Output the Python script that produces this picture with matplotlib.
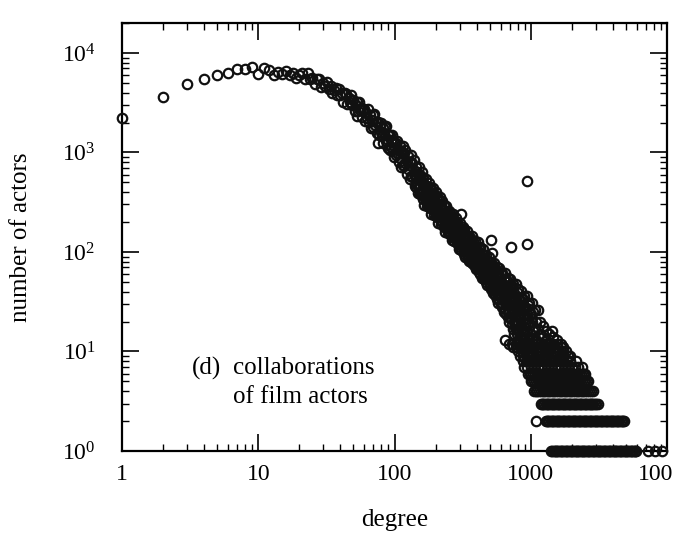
import numpy as np
import matplotlib
matplotlib.use('Agg')
from matplotlib import pyplot as plt
from matplotlib.ticker import LogLocator, FuncFormatter, NullFormatter

plt.rcParams['font.family'] = ['Liberation Serif', 'DejaVu Serif']
plt.rcParams['mathtext.fontset'] = 'custom'
plt.rcParams['mathtext.rm'] = 'Liberation Serif'

# degree distribution of the actor network
# head: k = 1..11
head_k = [1, 2, 3, 4, 5, 6, 7, 8, 9, 10, 11]
head_n = [2240, 3570, 4920, 5450, 6020, 6270, 6960, 6860, 7240, 6110, 7030]

# every degree from 12 to 100
low_k = list(range(12, 101))
low_n = [6720, 6050, 6440, 6180, 6640, 5960, 6290, 5650, 6030,
         6300, 5420, 6220, 5430, 5590, 4850, 5510, 5430, 4600, 4990,
         4640, 5100, 4340, 4650, 3920, 4260, 4450, 3820, 4370, 3810,
         3970, 3230, 3930, 3910, 3100, 3550, 3240, 3750, 2990, 3340,
         2610, 3000, 3250, 2620, 3230, 2670, 2810, 2270, 2750, 2740,
         2090, 2500, 2210, 2730, 2030, 2370, 1770, 2100, 2360, 1800,
         2410, 1880, 2020, 1570, 2030, 2030, 1510, 1810, 1610, 2000,
         1460, 1780, 1250, 1560, 1800, 1290, 1850, 1360, 1500, 1100,
         1510, 1510, 1060, 1320, 1140, 1500, 1050, 1290, 895, 1120]

# sampled degrees above 100 with the counts seen in that column
mid_k = [102, 105, 107, 110, 112, 115, 117, 120, 123, 126, 129, 132, 135, 138, 141,
         145, 148, 151, 155, 158, 162, 166, 170, 174, 178, 182, 186, 191, 195, 200,
         204, 209, 214, 219, 224, 229, 234, 240, 245, 251, 257, 263, 269, 275, 282,
         288, 295, 302, 309, 316,
         324, 331, 339, 347, 355, 363, 372, 380, 389, 398, 407, 417, 427, 437, 447,
         457, 468, 479, 490, 501, 513, 525, 537, 550, 562, 575, 589, 603, 617, 631,
         646, 661, 676, 692, 708, 724, 741, 759, 776, 794, 813, 832, 851, 871, 891,
         912, 933, 955, 977, 1000, 1023, 1047, 1072, 1096, 1122, 1175, 1230, 1290,
         1350, 1445, 1550]
mid_n = [[1245, 948], [1315, 998], [1052, 794], [1159, 871], [1014, 708],
         [1170, 746], [993, 736], [1059, 782], [830, 608], [925, 675],
         [800, 540], [940, 574], [787, 566], [843, 604], [649, 462],
         [721, 557, 445], [608, 478, 387], [708, 565, 444], [596, 475, 379],
         [494, 394, 640], [552, 427, 340], [466, 366, 296], [542, 433, 340],
         [456, 364, 290], [378, 302, 490], [448, 346, 276], [378, 296, 240],
         [440, 351, 275], [370, 295, 235], [307, 245, 397], [363, 281, 224],
         [306, 240, 195], [356, 284, 223], [300, 239, 191], [249, 199, 322],
         [294, 228, 182], [248, 195, 158], [289, 231, 181], [243, 194, 155],
         [202, 161, 261], [247, 191, 152], [208, 164, 133], [243, 194, 152],
         [204, 163, 130], [169, 135, 219], [200, 155, 124], [169, 133, 108],
         [197, 157, 123], [166, 132, 105], [137, 110, 178],
         [172, 142, 117, 96], [150, 123, 105, 89], [163, 137, 113, 94],
         [144, 119, 100, 86], [145, 120, 99, 81], [132, 109, 93, 79],
         [145, 121, 100, 84], [128, 105, 88, 76], [129, 106, 87, 72],
         [112, 92, 79, 67], [125, 103, 84, 70], [110, 89, 74, 63],
         [111, 90, 73, 60], [96, 78, 66, 55], [106, 87, 71, 59],
         [93, 76, 63, 53], [94, 76, 62, 50], [81, 66, 55, 47],
         [89, 74, 60, 50], [79, 64, 53, 45], [80, 65, 52, 42],
         [70, 56, 46, 39], [78, 63, 50, 41], [69, 54, 44, 37],
         [71, 56, 44, 34], [61, 47, 38, 31], [69, 55, 42, 34],
         [60, 46, 36, 30], [62, 48, 36, 28], [53, 40, 32, 25],
         [62, 47, 36, 27], [53, 39, 30, 24], [55, 40, 30, 22],
         [45, 33, 25, 20], [54, 40, 29, 22], [45, 33, 24, 19],
         [48, 34, 24, 17], [39, 27, 20, 15], [48, 34, 24, 17],
         [40, 27, 19, 15], [42, 29, 19, 13], [33, 22, 16],
         [41, 29, 19, 14], [34, 23, 16], [36, 24, 16], [28, 19, 13],
         [36, 24, 16], [29, 19, 13], [31, 20, 13], [24, 15],
         [31, 20, 13], [25, 16], [26, 17], [20, 13], [26, 17],
         [20, 15], [18, 14], [16, 13], [15], [14], [13]]

# more degrees inside the dense core of the band
core_k = [146, 153, 160, 168, 176, 184, 193, 202, 211, 221, 232, 243, 254, 266,
          279, 292, 305, 320, 335, 351, 367, 385, 403, 422, 442, 462, 484, 507,
          531, 556, 582, 610, 638, 668, 700, 733, 767, 804, 841, 881, 923, 966]
core_n = [[631, 472], [535, 400], [565, 423], [463, 347], [393, 294], [425, 318],
          [360, 269], [305, 229], [330, 247], [280, 209], [238, 178], [256, 192],
          [225, 169], [191, 143], [207, 155], [175, 131], [149, 111], [164, 123],
          [140, 104], [118, 89], [134, 100], [114, 85], [97, 71], [106, 78],
          [89, 65], [75, 55], [82, 60], [70, 51], [59, 42], [66, 46], [56, 38],
          [46, 31], [54, 36], [44, 29], [36, 22], [43, 26], [35, 20], [27, 16],
          [35, 19], [27, 15], [21], [27, 14]]

# low counts: degrees found on each integer count level
row_n = [1, 2, 3, 4, 5, 6, 7, 8, 9, 10, 11, 12]
row_k = [
    [1413, 1442, 1471, 1504, 1537, 1567, 1598, 1633, 1668, 1703, 1739, 1774,
     1809, 1849, 1889, 1927, 1966, 2009, 2053, 2095, 2137, 2183, 2230, 2275,
     2321, 2372, 2423, 2472, 2521, 2576, 2632, 2686, 2740, 2799, 2860, 2918,
     2977, 3041, 3107, 3170, 3234, 3304, 3375, 3444, 3514, 3590, 3667, 3741,
     3817, 3899, 3983, 4065, 4148, 4237, 4327, 4415, 4505, 4603, 4702, 4798,
     4895, 5001, 5108, 5212, 5318, 5432, 5549, 5662, 5778, 5866, 5957,
     7260, 8170, 9190],
    [1093, 1288, 1316, 1344, 1372, 1401, 1430, 1460, 1491, 1522, 1554, 1586,
     1619, 1653, 1688, 1723, 1759, 1796, 1834, 1872, 1911, 1951, 1992, 2033,
     2076, 2119, 2164, 2209, 2255, 2302, 2351, 2400, 2450, 2501, 2554, 2607,
     2662, 2717, 2774, 2832, 2892, 2952, 3014, 3077, 3142, 3207, 3275, 3343,
     3413, 3484, 3558, 3632, 3708, 3785, 3865, 3946, 4029, 4112, 4199, 4286,
     4377, 4468, 4562, 4657, 4744, 4831],
    [1183, 1208, 1233, 1259, 1286, 1312, 1339, 1368, 1397, 1425, 1454, 1485,
     1516, 1549, 1582, 1614, 1647, 1682, 1717, 1753, 1790, 1828, 1867, 1905,
     1944, 1985, 2027, 2070, 2114, 2158, 2202, 2249, 2297, 2344, 2392, 2443,
     2494, 2547, 2601, 2655, 2709, 2767, 2826, 2884, 2943, 3016, 3090],
    [1057, 1088, 1119, 1152, 1186, 1221, 1256, 1293, 1330, 1369, 1409, 1451,
     1493, 1537, 1581, 1628, 1675, 1724, 1774, 1826, 1879, 1935, 1991, 2050,
     2109, 2171, 2234, 2300, 2366, 2436, 2506, 2580, 2655, 2753, 2851],
    [1001, 1030, 1060, 1091, 1123, 1156, 1190, 1225, 1260, 1297, 1335, 1374,
     1414, 1455, 1497, 1542, 1587, 1633, 1680, 1729, 1779, 1832, 1885, 1940,
     1996, 2055, 2115, 2177, 2240, 2306, 2372, 2442, 2513, 2566, 2619],
    [955, 983, 1012, 1042, 1072, 1103, 1135, 1168, 1202, 1238, 1274, 1311,
     1349, 1389, 1429, 1471, 1513, 1558, 1603, 1650, 1698, 1748, 1798, 1851,
     1905, 1961, 2018, 2077, 2137, 2200, 2264, 2331, 2398, 2454, 2511],
    [891, 944, 998, 1058, 1121, 1188, 1258, 1333, 1412, 1495, 1584, 1678,
     1777, 1883, 1994, 2112, 2238, 2397],
    [871, 923, 977, 1035, 1096, 1161, 1230, 1303, 1380, 1462, 1549, 1641,
     1738, 1841, 1949, 2136],
    [832, 881, 933, 989, 1047, 1109, 1175, 1245, 1318, 1398, 1479, 1567,
     1660, 1758, 1862, 1952],
    [813, 861, 912, 966, 1023, 1084, 1148, 1216, 1289, 1365, 1445, 1531,
     1622, 1719, 1820],
    [741, 785, 833, 882, 934, 990, 1048, 1110, 1176, 1246, 1319, 1395,
     1480, 1568, 1661, 1737],
    [692, 733, 776, 822, 872, 924, 978, 1036, 1097, 1162, 1231, 1304,
     1381, 1463, 1550, 1662],
]

# points lying away from the main band
out_k = [53, 76, 308, 511, 520, 716, 938, 938, 647, 1432]
out_n = [2340, 1250, 243, 133, 97, 111, 521, 119, 13, 16]

# gather everything
deg = list(head_k) + list(low_k) + list(out_k)
cnt = list(head_n) + list(low_n) + list(out_n)
for k, ns in list(zip(mid_k, mid_n)) + list(zip(core_k, core_n)):
    deg += [k] * len(ns)
    cnt += ns
for n, ks in zip(row_n, row_k):
    deg += ks
    cnt += [n] * len(ks)
deg = np.array(deg, dtype=float)
cnt = np.array(cnt, dtype=float)

fig = plt.figure(figsize=(6.73, 5.33), dpi=100)
ax = fig.add_axes([122 / 673, 1 - 451 / 533, 545 / 673, 428 / 533])
ax.plot(deg, cnt, 'o', mfc='none', mec='#111111', ms=6.8, mew=1.6,
        clip_on=False, zorder=3)

ax.set_xscale('log')
ax.set_yscale('log')
ax.set_xlim(1, 1e4)
ax.set_ylim(1, 2e4)

for a in (ax.xaxis, ax.yaxis):
    a.set_major_locator(LogLocator(base=10, numticks=20))
    a.set_minor_locator(LogLocator(base=10, subs=range(2, 10), numticks=100))
    a.set_minor_formatter(NullFormatter())
ax.xaxis.set_major_formatter(FuncFormatter(lambda v, p: '%d' % round(v)))
ax.yaxis.set_major_formatter(
    FuncFormatter(lambda v, p: r'$\mathregular{10^{%d}}$' % round(np.log10(v))))

ax.tick_params(which='both', direction='in', top=True, right=True, labelsize=17)
ax.tick_params(which='major', length=12, width=1.2)
ax.tick_params(which='minor', length=5, width=1.0)
ax.tick_params(axis='x', pad=9)
ax.tick_params(axis='y', pad=19)
for s in ax.spines.values():
    s.set_linewidth(1.6)

ax.set_xlabel('degree', fontsize=18)
ax.set_ylabel('number of actors', fontsize=18)
ax.xaxis.set_label_coords(0.5, -0.136)
ax.yaxis.set_label_coords(-0.165, 0.5)

ax.text(0.128, 0.194, '(d)', transform=ax.transAxes, fontsize=18, va='center')
ax.text(0.204, 0.194, 'collaborations', transform=ax.transAxes, fontsize=18, va='center')
ax.text(0.204, 0.126, 'of film actors', transform=ax.transAxes, fontsize=18, va='center')

fig.savefig('out.png', dpi=100)
